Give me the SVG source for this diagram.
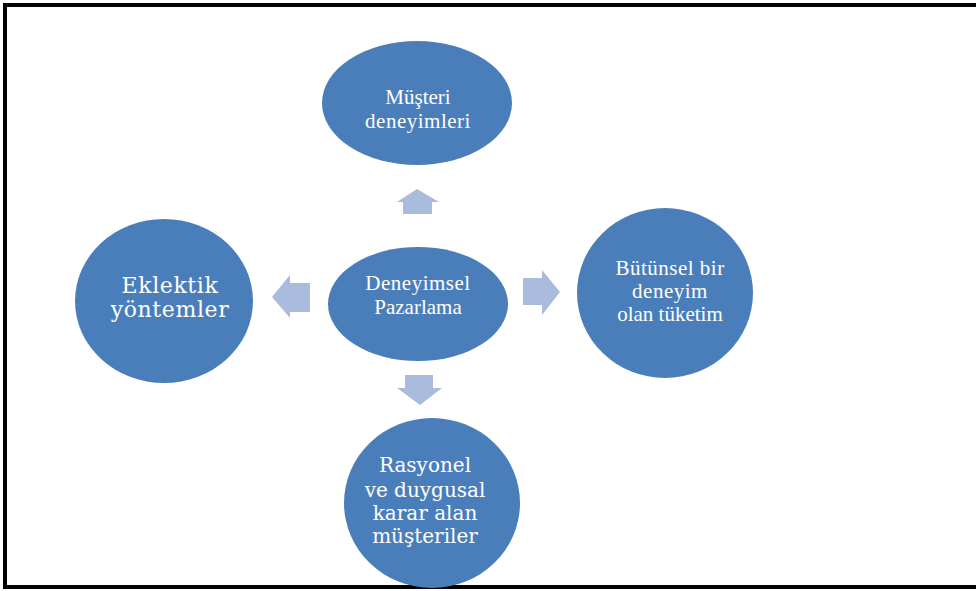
<svg xmlns="http://www.w3.org/2000/svg" width="976" height="591" viewBox="0 0 976 591">
  <style>
    .node { fill: #4A7EBB; }
    .arrow { fill: #A9BCDD; }
    .t { fill: #ffffff; text-anchor: middle; font-family: "Liberation Serif", "Times New Roman", serif; font-size: 21px; }
    .s { fill: #ffffff; text-anchor: middle; font-family: "DejaVu Serif", "Liberation Serif", serif; }
  </style>
  <rect width="976" height="591" fill="#ffffff"/>
  <!-- frame: top, left and bottom rules -->
  <path d="M976 5 H5 V587 H976" fill="none" stroke="#000000" stroke-width="4"/>

  <g id="connectors">
    <polygon class="arrow" points="417,189 439,202 432,202 432,214 403,214 403,202 397,202"/>
    <polygon class="arrow" points="272,297 290,275 290,283 310,283 310,312 290,312 290,318"/>
    <polygon class="arrow" points="560,292 542,270 542,278 523,278 523,305 542,305 542,315"/>
    <polygon class="arrow" points="420,405 442,388 433,388 433,375 405,375 405,388 397,388"/>
  </g>

  <g id="center">
    <ellipse class="node" cx="418" cy="304" rx="90" ry="57"/>
    <text class="t" x="418" y="290" font-size="22" letter-spacing="0.5">Deneyimsel</text>
    <text class="t" x="418" y="314" font-size="22">Pazarlama</text>
  </g>

  <g id="top">
    <ellipse class="node" cx="417" cy="103" rx="95" ry="62"/>
    <text class="t" x="418" y="104" font-size="20">Müşteri</text>
    <text class="t" x="418" y="128" font-size="21" letter-spacing="0.5">deneyimleri</text>
  </g>

  <g id="left">
    <ellipse class="node" cx="164" cy="301" rx="89" ry="82"/>
    <text class="s" x="170" y="293" font-size="22" letter-spacing="0.6">Eklektik</text>
    <text class="s" x="170" y="317" font-size="22" letter-spacing="0.6">yöntemler</text>
  </g>

  <g id="right">
    <ellipse class="node" cx="665" cy="293" rx="88" ry="85"/>
    <text class="t" x="670" y="275" letter-spacing="0.5">Bütünsel bir</text>
    <text class="t" x="670" y="298" letter-spacing="0.5">deneyim</text>
    <text class="t" x="670" y="321" font-size="22">olan tüketim</text>
  </g>

  <g id="bottom">
    <ellipse class="node" cx="432" cy="503" rx="88" ry="85"/>
    <text class="s" x="425" y="472" font-size="20">Rasyonel</text>
    <text class="s" x="425" y="497" font-size="20">ve duygusal</text>
    <text class="s" x="425" y="520" font-size="20">karar alan</text>
    <text class="s" x="425" y="543" font-size="20">müşteriler</text>
  </g>
</svg>
